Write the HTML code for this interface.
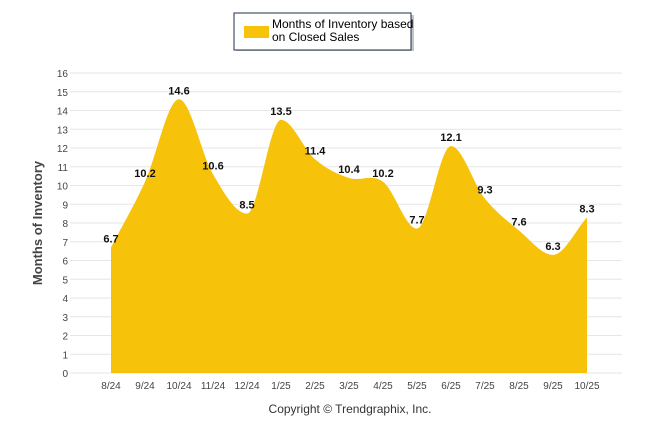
<!DOCTYPE html>
<html><head><meta charset="utf-8"><style>
body{margin:0;background:#fff;width:646px;height:434px;overflow:hidden;font-family:"Liberation Sans",Arial,sans-serif}
</style></head><body>
<svg id="chart" width="646" height="434" xmlns="http://www.w3.org/2000/svg" font-family="Liberation Sans, Arial, sans-serif">
<g>
<rect x="236" y="15" width="178" height="36" fill="#8a8a8a" opacity="0.5"/>
<rect x="234" y="13" width="177" height="37" fill="#fff" stroke="#1f2f4f" stroke-width="1"/>
<rect x="244" y="26" width="25" height="12" fill="#f7c20a"/>
<text x="272" y="28" font-size="12" fill="#000">Months of Inventory based</text>
<text x="272" y="41" font-size="12" fill="#000">on Closed Sales</text>
</g>
<g id="grid"></g>
<g id="series"></g>
<g id="labels"></g>
<text transform="translate(42,223) rotate(-90)" text-anchor="middle" font-size="13" font-weight="bold" fill="#444">Months of Inventory</text>
<text x="350" y="413" text-anchor="middle" font-size="12" fill="#333">Copyright © Trendgraphix, Inc.</text>
</svg>
<script>
const categories=["8/24","9/24","10/24","11/24","12/24","1/25","2/25","3/25","4/25","5/25","6/25","7/25","8/25","9/25","10/25"];
const values=[6.7,10.2,14.6,10.6,8.5,13.5,11.4,10.4,10.2,7.7,12.1,9.3,7.6,6.3,8.3];
const yTicks=[0,1,2,3,4,5,6,7,8,9,10,11,12,13,14,15,16];
const NS="http://www.w3.org/2000/svg";
const x0=111,dx=34,yBase=373,yTop=73,yMax=16;
const X=i=>x0+i*dx;
const Y=v=>yBase-(v/yMax)*(yBase-yTop);
function mk(t,a,p){const e=document.createElementNS(NS,t);for(const k in a)e.setAttribute(k,a[k]);p.appendChild(e);return e;}
const grid=document.getElementById('grid');
yTicks.forEach(t=>{
 const l=mk('line',{x1:70,x2:622,y1:Y(t),y2:Y(t),stroke:'#e6e6e6','stroke-width':1},grid);
 
 
 const tx=mk('text',{x:68,y:Y(t)+4,'text-anchor':'end','font-size':10,fill:'#444'},grid);
 tx.textContent=t;
 
 
});
categories.forEach((c,i)=>{
 const tx=mk('text',{x:X(i),y:389,'text-anchor':'middle','font-size':10,fill:'#444'},grid);
 tx.textContent=c;
 
 
});
// monotone cubic spline
const pts=values.map((v,i)=>[X(i),Y(v)]);
const n=pts.length,m=[],d=[];
for(let i=0;i<n-1;i++)d.push((pts[i+1][1]-pts[i][1])/dx);
for(let i=0;i<n;i++){
 if(i==0)m.push(d[0]);else if(i==n-1)m.push(d[n-2]);
 else m.push(d[i-1]*d[i]<=0?0:(d[i-1]+d[i])/2);
}
let p=`M${pts[0][0]},${yBase} L${pts[0][0]},${pts[0][1]}`;
for(let i=0;i<n-1;i++){
 const [xa,ya]=pts[i],[xb,yb]=pts[i+1];
 p+=` C${xa+dx/3},${ya+m[i]*dx/3} ${xb-dx/3},${yb-m[i+1]*dx/3} ${xb},${yb}`;
}
p+=` L${pts[n-1][0]},${yBase} Z`;
const area=mk('path',{d:p,fill:'#f7c20a'},document.getElementById('series'));


const lab=document.getElementById('labels');
values.forEach((v,i)=>{
 const t=mk('text',{x:X(i),y:Y(v)-5,'text-anchor':'middle','font-size':11,'font-weight':'bold',fill:'#111'},lab);
 t.textContent=v.toFixed(1);
 
 
});
</script>
</body></html>
